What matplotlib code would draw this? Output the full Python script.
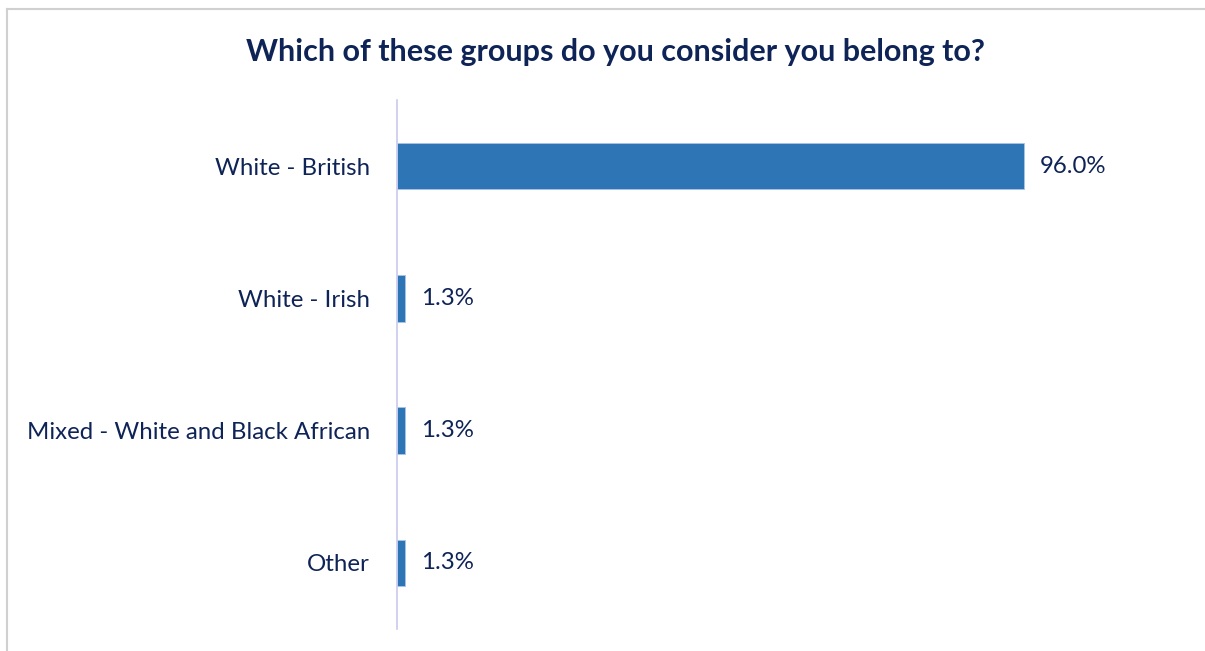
import matplotlib
matplotlib.use("Agg")
import matplotlib.pyplot as plt
from matplotlib.lines import Line2D

categories = ["White - British", "White - Irish", "Mixed - White and Black African", "Other"]
values = [96.0, 1.3, 1.3, 1.3]
value_labels = ["96.0%", "1.3%", "1.3%", "1.3%"]
title = "Which of these groups do you consider you belong to?"

navy = "#0E2356"
bar_color = "#2E75B6"

plt.rcParams['font.family'] = ['Lato', 'DejaVu Sans']

W, H = 1205, 651
fig = plt.figure(figsize=(W / 100, H / 100), dpi=100)
ax = fig.add_axes([397 / W, 22 / H, (1115 - 397) / W, (629 - 100) / H])

ypos = list(range(len(categories)))
ax.barh(ypos, values, height=0.35, color=bar_color, edgecolor="#A9C4E6", linewidth=0.6)
ax.set_ylim(len(categories) - 0.5, -0.5)
ax.set_xlim(0, 110)

ax.set_yticks(ypos)
ax.set_yticklabels(categories, fontsize=17.3, color=navy)
ax.tick_params(axis="y", length=0, pad=19.5)
ax.set_xticks([])

for s in ["top", "right", "bottom"]:
    ax.spines[s].set_visible(False)
ax.spines["left"].set_color("#CACAEE")
ax.spines["left"].set_linewidth(1.2)

for y, v, lab in zip(ypos, values, value_labels):
    ax.annotate(lab, (v, y), xytext=(11.5, 0), textcoords="offset points",
                va="center", ha="left", fontsize=17.3, color=navy)

fig.text(616 / W, 1 - 52 / H, title, ha="center", va="center",
         fontsize=22, fontweight="bold", color=navy)

# light frame on the top and left edges
fig.add_artist(Line2D([7 / W, 7 / W], [0, 1 - 9 / H], color="#D0D0D0", linewidth=1.5))
fig.add_artist(Line2D([7 / W, 1], [1 - 9 / H, 1 - 9 / H], color="#D0D0D0", linewidth=1.5))

fig.savefig("out.png", dpi=100)
